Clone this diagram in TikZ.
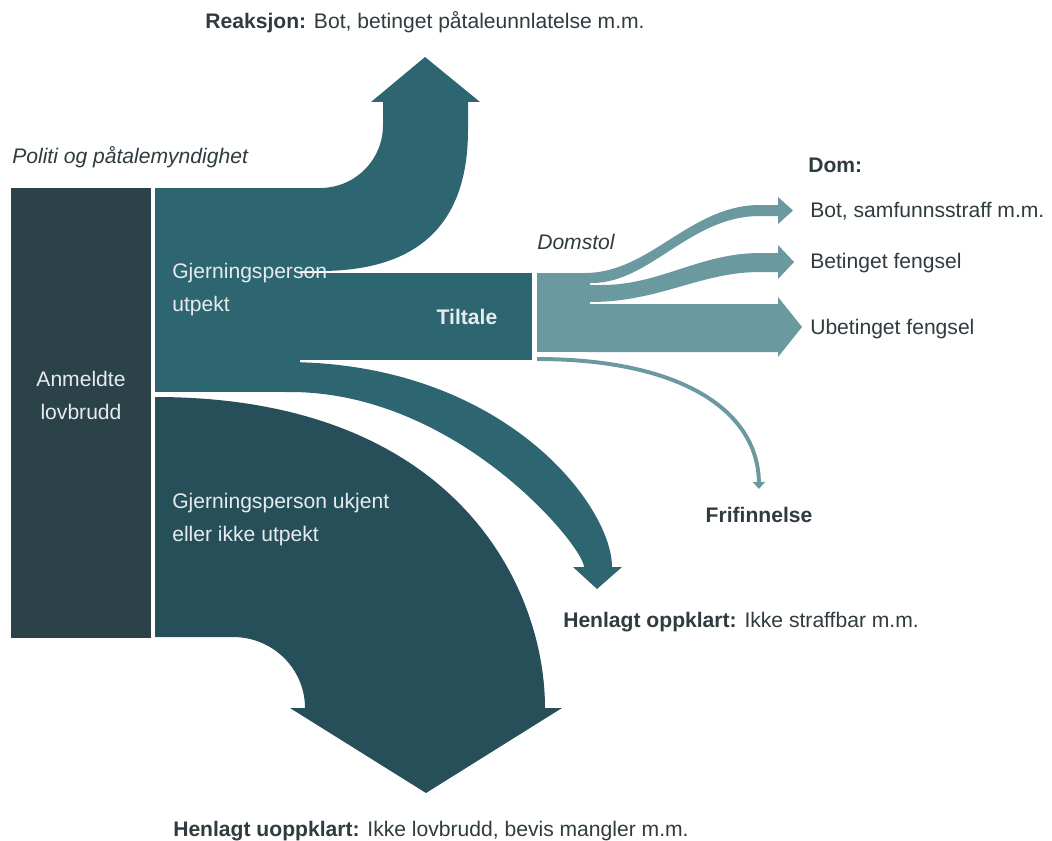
\documentclass[tikz,border=0pt]{standalone}
\usepackage{fontspec}
\setmainfont{Liberation Sans}
\usetikzlibrary{arrows.meta,positioning}

\definecolor{slatecol}{HTML}{2A4248}
\definecolor{ukjentcol}{HTML}{264F5A}
\definecolor{utpektcol}{HTML}{2D6571}
\definecolor{domcol}{HTML}{6B99A0}
\definecolor{textcol}{HTML}{2F3B3E}
\definecolor{lighttext}{HTML}{E6ECEE}

\begin{document}
\begin{tikzpicture}[x=0.025cm, y=-0.025cm,
    txt/.style={font=\fontsize{15}{22.8}\selectfont, text=textcol, inner sep=0pt, align=left},
    intxt/.style={txt, text=lighttext},
    band/.style={fill=#1, draw=none}]
        \useasboundingbox (0,0) rectangle (1052,841);

        % Anmeldte lovbrudd
        \fill[slatecol] (11,188) rectangle (151,638);
        \node[intxt, align=center, anchor=base] (anmeldt) at (81,419) {Anmeldte\\lovbrudd};

        % Gjerningsperson utpekt
        \fill[utpektcol] (155,188) rectangle (300,392);
        \path[band=utpektcol] (300,188) -- (320,188) .. controls (355,188) and (383,160) .. (383,125)
            -- (383,102) -- (371,102) -- (425,57) -- (480,102) -- (468,102) -- (468,130)
            .. controls (468,240) and (400,271) .. (320,271) -- (300,271) -- cycle;
        \fill[utpektcol] (300,273) rectangle (532,360);
        \path[band=utpektcol] (285,362) .. controls (503,362) and (612,505) .. (612,567)
            -- (622,567) -- (597,589) -- (573,567) -- (584,567)
            .. controls (584,547) and (458,392) .. (290,392) -- (285,392) -- cycle;
        \node[intxt, anchor=base west] (utpekt) at (172,311) {Gjerningsperson\\utpekt};
        \node[intxt, font=\fontsize{15}{22.8}\selectfont\bfseries, anchor=base] (tiltale) at (467,324) {Tiltale};

        % Gjerningsperson ukjent
        \path[band=ukjentcol] (155,397) .. controls (456,397) and (545,587) .. (545,708)
            -- (562,708) -- (426,793) -- (290,708) -- (305,708)
            .. controls (305,669) and (273,637) .. (233,637) -- (155,637) -- cycle;
        \node[intxt, anchor=base west] (ukjent) at (172,541) {Gjerningsperson ukjent\\eller ikke utpekt};

        % Domstol
        \fill[domcol] (537,273) rectangle (590,352);
        \path[band=domcol] (585,273) .. controls (650,273) and (690,205) .. (760,205) -- (778,205)
            -- (778,197) -- (793,210.5) -- (778,224) -- (778,216) -- (760,216)
            .. controls (690,216) and (650,283) .. (592,283) -- (585,283) -- cycle;
        \path[band=domcol] (585,285) -- (602,285) .. controls (660,285) and (700,253) .. (760,253) -- (778,253)
            -- (778,245) -- (794,262) -- (778,279) -- (778,272) -- (760,272)
            .. controls (700,272) and (660,302) .. (590,302) -- (585,302) -- cycle;
        \path[band=domcol] (585,304) -- (778,304) -- (778,297) -- (802,327) -- (778,357) -- (778,352)
            -- (585,352) -- cycle;
        \coordinate (frifra) at (537,359);
        \coordinate (fritil) at (759,489);
        \draw[domcol, line width=2.8pt, -{Triangle[width=8.5pt, length=5pt]}]
            (frifra) .. controls (680,359) and (758,410) .. (fritil);

        % Labels
        \node[txt, anchor=base] (reaksjon) at (425,29) {\textbf{Reaksjon:} Bot, betinget påtaleunnlatelse m.m.};
        \node[txt, font=\fontsize{15}{22.8}\selectfont\itshape, anchor=base west] (politi) at (12,163) {Politi og påtalemyndighet};
        \node[txt, font=\fontsize{15}{22.8}\selectfont\itshape, anchor=base west] (domstol) at (537,249) {Domstol};
        \node[txt, font=\fontsize{15}{22.8}\selectfont\bfseries, anchor=base west] (dom) at (808,172) {Dom:};
        \node[txt, anchor=base west] (bot) at (810,217) {Bot, samfunnsstraff m.m.};
        \node[txt, anchor=base west] (betinget) at (810,268) {Betinget fengsel};
        \node[txt, anchor=base west] (ubetinget) at (810,334) {Ubetinget fengsel};
        \node[txt, font=\fontsize{15}{22.8}\selectfont\bfseries, anchor=base] (frifinnelse) at (759,522) {Frifinnelse};
        \node[txt, anchor=base west] (oppklart) at (563,627) {\textbf{Henlagt oppklart:} Ikke straffbar m.m.};
        \node[txt, anchor=base west] (uoppklart) at (173,836) {\textbf{Henlagt uoppklart:} Ikke lovbrudd, bevis mangler m.m.};
    \end{tikzpicture}
\end{document}
